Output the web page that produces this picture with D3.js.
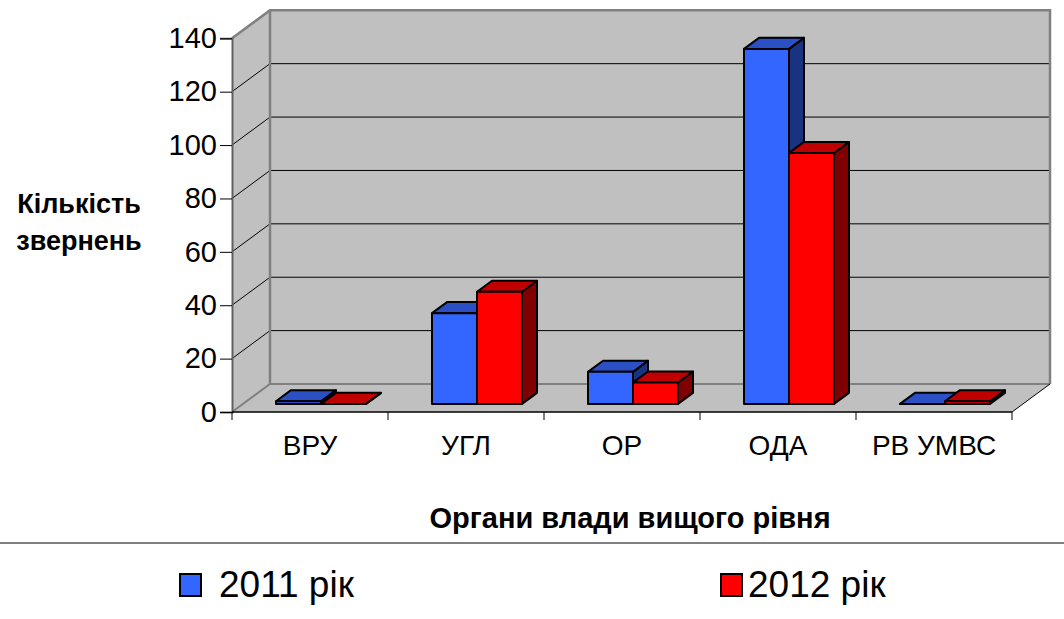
<!DOCTYPE html>
<html>
<head>
<meta charset="utf-8">
<script src="https://cdn.jsdelivr.net/npm/d3@7"></script>
<style>
  body { margin: 0; background: #fff; }
  text { font-family: Arial, "Liberation Sans", sans-serif; fill: #000; }
</style>
</head>
<body>
<div class="plot"></div>
<script>
var categories = ['ВРУ', 'УГЛ', 'ОР', 'ОДА', 'РВ УМВС'];
var series = ['2011 рік', '2012 рік'];
var values2011 = [1, 34, 12, 133, 0];
var values2012 = [0, 42, 8, 94, 1];
var yTicks = [0, 20, 40, 60, 80, 100, 120, 140];

var W = 1064, H = 619;
var DX = 38, DY = -28;          // depth of the box
var front = {l: 232, r: 1012, b: 412, t: 38.3};

var svg = d3.select('.plot').append('svg')
    .attr('width', W).attr('height', H);

var x = d3.scaleBand().domain(categories).range([front.l, front.r]);
var y = d3.scaleLinear().domain([0, 140]).range([front.b, front.t]);

function pt(px, py, d) { return [px + d * DX, py + d * DY]; }
function poly(points) { return points.map(function(p){ return p.join(','); }).join(' '); }

var g = svg.append('g');

// walls
var wallFill = '#c0c0c0', wallEdge = '#808080';
g.append('polygon')   // back wall
    .attr('points', poly([pt(front.l, front.b, 1), pt(front.r, front.b, 1), pt(front.r, front.t, 1), pt(front.l, front.t, 1)]))
    .attr('fill', wallFill).attr('stroke', 'none');
g.append('polygon')   // side wall
    .attr('points', poly([pt(front.l, front.b, 0), pt(front.l, front.b, 1), pt(front.l, front.t, 1), pt(front.l, front.t, 0)]))
    .attr('fill', wallFill).attr('stroke', 'none');
g.append('polygon')   // floor
    .attr('points', poly([pt(front.l, front.b, 0), pt(front.r, front.b, 0), pt(front.r, front.b, 1), pt(front.l, front.b, 1)]))
    .attr('fill', wallFill).attr('stroke', 'none');

// gridlines
yTicks.filter(function(d){ return d > 0 && d < 140; }).forEach(function(v){
    var a = pt(front.l, y(v), 0), b = pt(front.l, y(v), 1), c = pt(front.r, y(v), 1);
    g.append('polyline').attr('points', poly([a, b, c]))
        .attr('fill', 'none').attr('stroke', '#000').attr('stroke-width', 1);
});

// wall edges
g.append('polyline')
    .attr('points', poly([pt(front.l, front.t, 0), pt(front.l, front.t, 1), pt(front.r, front.t, 1), pt(front.r, front.b, 1)]))
    .attr('fill', 'none').attr('stroke', wallEdge).attr('stroke-width', 2.5);
g.append('line')
    .attr('x1', front.l + DX).attr('y1', front.t + DY).attr('x2', front.l + DX).attr('y2', front.b + DY)
    .attr('stroke', wallEdge).attr('stroke-width', 2.5);
g.append('polyline')
    .attr('points', poly([pt(front.l, front.b, 0), pt(front.l, front.b, 1), pt(front.r, front.b, 1)]))
    .attr('fill', 'none').attr('stroke', wallEdge).attr('stroke-width', 2);
g.append('line')
    .attr('x1', front.r).attr('y1', front.b).attr('x2', front.r + DX).attr('y2', front.b + DY)
    .attr('stroke', '#000').attr('stroke-width', 1);

// bars
var colors = [
    {front: '#3366ff', top: '#2a50c4', side: '#1a3380'},
    {front: '#ff0000', top: '#c00000', side: '#800000'}
];
var d0 = 11 / 38, d1 = 26 / 38, bw = 45;
var rows = [values2011, values2012];

categories.forEach(function(cat, ci){
    var cx = x(cat) + x.bandwidth() / 2;
    rows.forEach(function(vals, si){
        var v = vals[ci];
        var xl = cx - bw + si * bw, xr = xl + bw;
        var yt = y(v), yb = y(0);
        var c = colors[si];
        var bar = g.append('g').attr('stroke', '#000').attr('stroke-width', 2).attr('stroke-linejoin', 'round');
        bar.append('polygon')  // side
            .attr('points', poly([pt(xr, yb, d0), pt(xr, yb, d1), pt(xr, yt, d1), pt(xr, yt, d0)]))
            .attr('fill', c.side);
        bar.append('polygon')  // top
            .attr('points', poly([pt(xl, yt, d0), pt(xr, yt, d0), pt(xr, yt, d1), pt(xl, yt, d1)]))
            .attr('fill', c.top);
        bar.append('polygon')  // front
            .attr('points', poly([pt(xl, yb, d0), pt(xr, yb, d0), pt(xr, yt, d0), pt(xl, yt, d0)]))
            .attr('fill', c.front);
    });
});

// y axis
var yAxis = svg.append('g')
    .attr('transform', 'translate(' + front.l + ',0)')
    .call(d3.axisLeft(y).tickValues(yTicks).tickSize(12).tickPadding(3));
yAxis.select('.domain').attr('stroke', '#606060').attr('stroke-width', 2);
yAxis.selectAll('.tick line').attr('stroke', '#000').attr('stroke-width', 1);
yAxis.selectAll('.tick text').attr('font-size', 29).attr('font-family', 'Arial, "Liberation Sans", sans-serif').attr('fill', '#000');

// x axis
svg.append('line')
    .attr('x1', front.l).attr('x2', front.r).attr('y1', front.b).attr('y2', front.b)
    .attr('stroke', '#000').attr('stroke-width', 1.5);
var bounds = categories.map(function(c){ return x(c); }).concat([front.r]);
svg.selectAll('.xtick').data(bounds).enter().append('line')
    .attr('x1', function(d){ return d; }).attr('x2', function(d){ return d; })
    .attr('y1', front.b).attr('y2', front.b + 8)
    .attr('stroke', '#000').attr('stroke-width', 1);
svg.selectAll('.xlabel').data(categories).enter().append('text')
    .attr('x', function(d){ return x(d) + x.bandwidth() / 2; })
    .attr('y', 455)
    .attr('text-anchor', 'middle').attr('font-size', 28)
    .text(function(d){ return d; });

// titles
svg.append('text').attr('x', 630).attr('y', 528).attr('text-anchor', 'middle')
    .attr('font-size', 29).attr('font-weight', 'bold').text('Органи влади вищого рівня');
svg.append('text').attr('x', 79).attr('y', 213).attr('text-anchor', 'middle')
    .attr('font-size', 27).attr('font-weight', 'bold').text('Кількість');
svg.append('text').attr('x', 79).attr('y', 250).attr('text-anchor', 'middle')
    .attr('font-size', 27).attr('font-weight', 'bold').text('звернень');

// separator
svg.append('line').attr('x1', 0).attr('x2', W).attr('y1', 543).attr('y2', 543)
    .attr('stroke', '#808080').attr('stroke-width', 2);

// legend
var legendX = [180, 721], textX = [219, 748];
series.forEach(function(s, i){
    svg.append('rect').attr('x', legendX[i]).attr('y', 574).attr('width', 21).attr('height', 22)
        .attr('fill', colors[i].front).attr('stroke', '#000').attr('stroke-width', 2);
    svg.append('text').attr('x', textX[i]).attr('y', 597).attr('font-size', 37).text(s);
});
</script>
</body>
</html>
